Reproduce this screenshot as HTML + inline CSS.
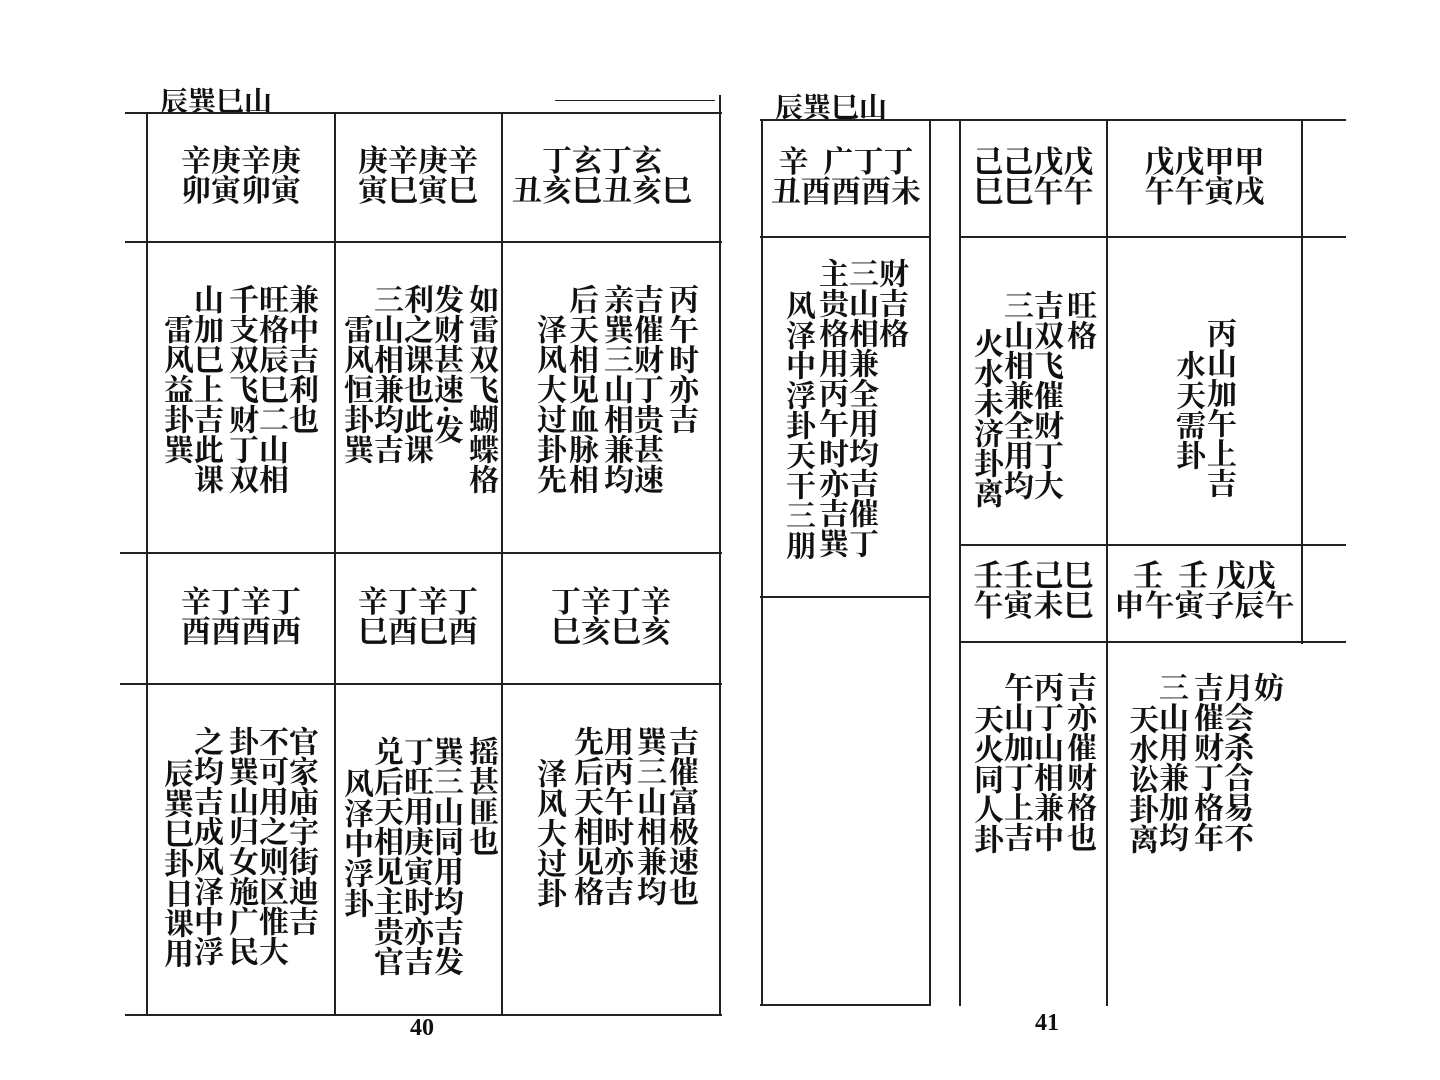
<!DOCTYPE html>
<html><head><meta charset="utf-8">
<style>
body{margin:0;background:#fff;}
#p{position:relative;width:1440px;height:1080px;overflow:hidden;background:#fff;font-family:"Liberation Serif","Noto Serif CJK SC","Noto Sans CJK SC",serif;color:#111;}
.h{position:absolute;height:2px;background:#222;}
.v{position:absolute;width:2px;background:#222;}
.c{position:absolute;writing-mode:vertical-rl;font-size:30px;line-height:32px;font-weight:700;white-space:nowrap;}
.t{position:absolute;font-size:30px;line-height:30px;font-weight:700;text-align:center;white-space:nowrap;}
.ti{position:absolute;font-size:28px;font-weight:700;}
</style></head><body><div id="p">
<!-- LEFT PAGE -->
<div class="ti" style="left:160px;top:80px">辰巽巳山</div>
<div class="h" style="left:125px;top:112px;width:597px"></div>
<div class="h" style="left:125px;top:241px;width:597px"></div>
<div class="h" style="left:120px;top:552px;width:602px"></div>
<div class="h" style="left:120px;top:683px;width:602px"></div>
<div class="h" style="left:125px;top:1014px;width:597px"></div>
<div class="v" style="left:146px;top:112px;height:904px"></div>
<div class="v" style="left:334px;top:112px;height:904px"></div>
<div class="v" style="left:501px;top:112px;height:904px"></div>
<div class="v" style="left:719px;top:95px;height:921px"></div>
<div class="h" style="left:555px;top:100px;width:160px;height:1px"></div>

<div class="t" style="left:147px;top:147px;width:188px">辛庚辛庚<br>卯寅卯寅</div>
<div class="t" style="left:335px;top:147px;width:166px">庚辛庚辛<br>寅巳寅巳</div>
<div class="t" style="left:502px;top:147px;width:200px">丁玄丁玄<br>丑亥巳丑亥巳</div>

<div class="c" style="left:284px;top:284px">兼中吉利也</div>
<div class="c" style="left:254px;top:284px">旺格辰巳二山相</div>
<div class="c" style="left:224px;top:284px">千支双飞财丁双</div>
<div class="c" style="left:189px;top:284px">山加巳上吉此课</div>
<div class="c" style="left:159px;top:314px">雷风益卦巽</div>

<div class="c" style="left:464px;top:284px">如雷双飞蝴蝶格</div>
<div class="c" style="left:429px;top:284px">发财甚速·发</div>
<div class="c" style="left:399px;top:284px">利之课也此课</div>
<div class="c" style="left:369px;top:284px">三山相兼均吉</div>
<div class="c" style="left:339px;top:314px">雷风恒卦巽</div>

<div class="c" style="left:664px;top:284px">丙午时亦吉</div>
<div class="c" style="left:629px;top:284px">吉催财丁贵甚速</div>
<div class="c" style="left:599px;top:284px">亲巽三山相兼均</div>
<div class="c" style="left:564px;top:284px">后天相见血脉相</div>
<div class="c" style="left:532px;top:314px">泽风大过卦先</div>

<div class="t" style="left:147px;top:588px;width:188px">辛丁辛丁<br>酉酉酉西</div>
<div class="t" style="left:335px;top:588px;width:166px">辛丁辛丁<br>巳酉巳酉</div>
<div class="t" style="left:502px;top:588px;width:218px">丁辛丁辛<br>巳亥巳亥</div>

<div class="c" style="left:284px;top:726px">官家庙宇街迪吉</div>
<div class="c" style="left:254px;top:726px">不可用之则区惟大</div>
<div class="c" style="left:224px;top:726px">卦巽山归女施广民</div>
<div class="c" style="left:189px;top:726px">之均吉成风泽中浮</div>
<div class="c" style="left:159px;top:758px">辰巽巳卦日课用</div>

<div class="c" style="left:464px;top:736px">摇甚匪也</div>
<div class="c" style="left:429px;top:736px">巽三山同用均吉发</div>
<div class="c" style="left:399px;top:736px">丁旺用庚寅时亦吉</div>
<div class="c" style="left:369px;top:736px">兑后天相见主贵官</div>
<div class="c" style="left:339px;top:768px">风泽中浮卦</div>

<div class="c" style="left:664px;top:726px">吉催富极速也</div>
<div class="c" style="left:632px;top:726px">巽三山相兼均</div>
<div class="c" style="left:599px;top:726px">用丙午时亦吉</div>
<div class="c" style="left:569px;top:726px">先后天相见格</div>
<div class="c" style="left:532px;top:758px">泽风大过卦</div>

<div class="ti" style="left:410px;top:1015px;font-size:24px;font-family:'Liberation Serif',serif">40</div>

<!-- RIGHT PAGE -->
<div class="ti" style="left:775px;top:86px">辰巽巳山</div>
<div class="h" style="left:760px;top:119px;width:586px"></div>
<div class="h" style="left:760px;top:236px;width:170px"></div>
<div class="h" style="left:960px;top:236px;width:386px"></div>
<div class="h" style="left:760px;top:596px;width:170px"></div>
<div class="h" style="left:960px;top:544px;width:386px"></div>
<div class="h" style="left:960px;top:641px;width:386px"></div>
<div class="h" style="left:760px;top:1004px;width:170px"></div>
<div class="v" style="left:761px;top:119px;height:887px"></div>
<div class="v" style="left:929px;top:119px;height:887px"></div>
<div class="v" style="left:959px;top:119px;height:887px"></div>
<div class="v" style="left:1106px;top:119px;height:887px"></div>
<div class="v" style="left:1301px;top:119px;height:525px"></div>

<div class="t" style="left:762px;top:148px;width:168px">辛&nbsp;&nbsp;广丁丁<br>丑酉酉酉未</div>
<div class="c" style="left:874px;top:258px">财吉格</div>
<div class="c" style="left:844px;top:258px">三山相兼全用均吉催丁</div>
<div class="c" style="left:814px;top:258px">主贵格用丙午时亦吉巽</div>
<div class="c" style="left:781px;top:290px">风泽中浮卦天干三朋</div>

<div class="t" style="left:960px;top:148px;width:147px">己己戊戊<br>巳巳午午</div>
<div class="t" style="left:1107px;top:148px;width:195px">戊戊甲甲<br>午午寅戌</div>
<div class="c" style="left:1062px;top:290px">旺格</div>
<div class="c" style="left:1029px;top:290px">吉双飞催财丁大</div>
<div class="c" style="left:999px;top:290px">三山相兼全用均</div>
<div class="c" style="left:969px;top:328px">火水未济卦离</div>
<div class="c" style="left:1202px;top:318px">丙山加午上吉</div>
<div class="c" style="left:1171px;top:350px">水天需卦</div>

<div class="t" style="left:960px;top:562px;width:147px">壬壬己巳<br>午寅未巳</div>
<div class="t" style="left:1107px;top:562px;width:195px">壬&nbsp;&nbsp;壬&nbsp;戊戊<br>申午寅子辰午</div>
<div class="c" style="left:1062px;top:672px">吉亦催财格也</div>
<div class="c" style="left:1029px;top:672px">丙丁山相兼中</div>
<div class="c" style="left:999px;top:672px">午山加丁上吉</div>
<div class="c" style="left:969px;top:704px">天火同人卦</div>
<div class="c" style="left:1249px;top:672px">妨</div>
<div class="c" style="left:1219px;top:672px">月会杀合易不</div>
<div class="c" style="left:1189px;top:672px">吉催财丁格年</div>
<div class="c" style="left:1154px;top:672px">三山用兼加均</div>
<div class="c" style="left:1124px;top:704px">天水讼卦离</div>

<div class="ti" style="left:1035px;top:1010px;font-size:24px;font-family:'Liberation Serif',serif">41</div>
</div></body></html>
